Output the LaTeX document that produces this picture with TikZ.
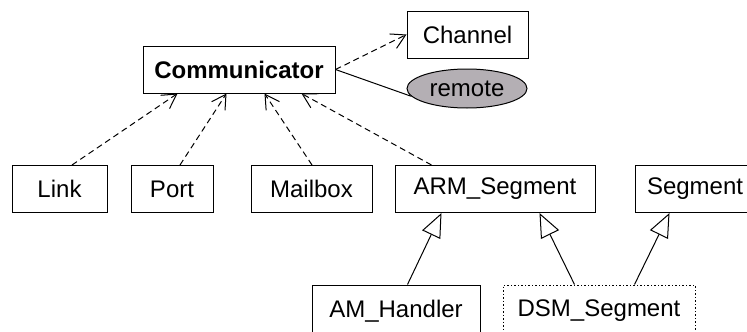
\documentclass[tikz,border=0pt]{standalone}
\usepackage{fontspec}
\setmainfont{Liberation Sans}
\usetikzlibrary{arrows.meta,shapes.geometric}
\definecolor{remotegray}{RGB}{180,175,180}
\begin{document}
\begin{tikzpicture}[x=1pt,y=-1pt,
  cls/.style={draw,line width=1pt,inner sep=0pt,minimum height=47pt,font=\fontsize{24}{27}\selectfont},
  dep/.style={draw,line width=1pt,dash pattern=on 6pt off 4pt,-{Straight Barb[length=14pt,width=16pt,line width=1pt]}},
  gen/.style={draw,line width=1pt,-{Triangle[open,length=24pt,width=20pt,line width=1pt,fill=white]}},
  assoc/.style={draw,line width=1pt}]
\useasboundingbox (0,0) rectangle (747,332);
\clip (0,0) rectangle (747,332);
\node[cls,minimum width=121pt] (channel) at (467.5,34.5) {Channel};
\node[cls,minimum width=192pt,font=\fontsize{24}{27}\selectfont\bfseries] (comm) at (239,69.5) {Communicator};
\node[ellipse,draw,line width=1pt,fill=remotegray,minimum width=120pt,minimum height=39pt,inner sep=0pt,font=\fontsize{24}{27}\selectfont] (remote) at (467,88.5) {remote};
\node[cls,minimum width=95pt] (link) at (59.5,189) {Link};
\node[cls,minimum width=82pt] (port) at (172,189) {Port};
\node[cls,minimum width=121pt] (mailbox) at (311.5,189) {Mailbox};
\node[cls,minimum width=200pt] (arm) at (495,189) {ARM\_Segment};
\node[cls,minimum width=125pt,text width=125pt,align=left] (seg) at (697.5,189) {\hspace{12pt}Segment};
\node[cls,minimum width=168pt,minimum height=52pt] (amh) at (396,311) {AM\_Handler};
\node[cls,minimum width=192pt,minimum height=52pt,dash pattern=on 1.5pt off 2pt] (dsm) at (599,311) {DSM\_Segment};
% dependencies
\draw[dep] (comm.east) -- (channel.west);
\draw[assoc] (comm.east) -- (remote.188);
\draw[dep] ([xshift=12.5pt]link.north) -- ([xshift=35pt]comm.south west);
\draw[dep] ([xshift=8pt]port.north) -- ([xshift=84pt]comm.south west);
\draw[dep] ([xshift=0.5pt]mailbox.north) -- ([xshift=122pt]comm.south west);
\draw[dep] ([xshift=37pt]arm.north west) -- ([xshift=159pt]comm.south west);
% generalizations
\draw[gen] ([xshift=96pt]amh.north west) -- ([xshift=47pt]arm.south west);
\draw[gen] ([xshift=72pt]dsm.north west) -- ([xshift=145pt]arm.south west);
\draw[gen] ([xshift=132pt]dsm.north west) -- ([xshift=35pt]seg.south west);
\end{tikzpicture}
\end{document}
